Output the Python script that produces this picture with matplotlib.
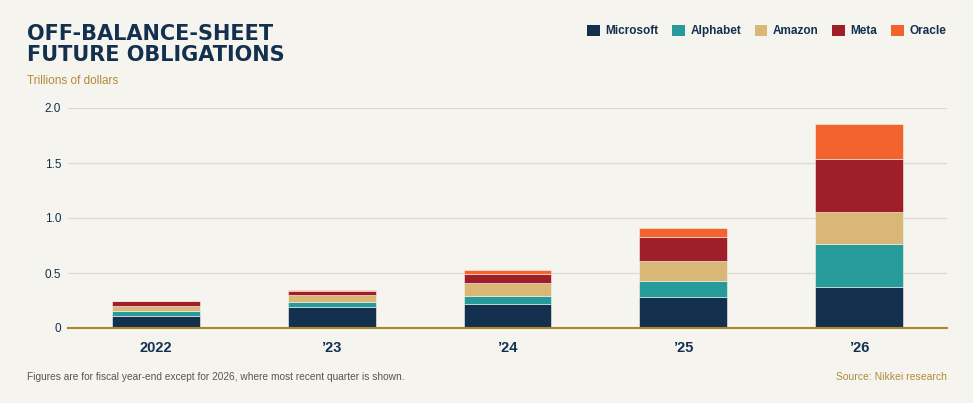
import numpy as np
import matplotlib
matplotlib.use("Agg")
import matplotlib.pyplot as plt
from matplotlib.patches import Patch

# data, trillions of dollars
years = ["2022", "\u201923", "\u201924", "\u201925", "\u201926"]
companies = ["Microsoft", "Alphabet", "Amazon", "Meta", "Oracle"]
microsoft = [0.112, 0.190, 0.220, 0.282, 0.369]
alphabet = [0.045, 0.048, 0.070, 0.142, 0.397]
amazon = [0.045, 0.066, 0.115, 0.185, 0.285]
meta = [0.040, 0.036, 0.082, 0.215, 0.482]
oracle = [0.003, 0.010, 0.043, 0.082, 0.325]

colors = ["#13304f", "#279b9a", "#d9b776", "#a01e27", "#f2632d"]
bg = "#f6f4ef"
navy = "#13304f"
gold = "#b08a3a"

plt.rcParams["font.family"] = ["Liberation Sans", "DejaVu Sans"]

fig = plt.figure(figsize=(9.73, 4.03), dpi=100, facecolor=bg)
ax = fig.add_axes([68 / 973, 75 / 403, 879 / 973, 220 / 403])
ax.set_facecolor(bg)

x = np.arange(len(years))
bottom = np.zeros(len(years))
for series, name, col in zip([microsoft, alphabet, amazon, meta, oracle], companies, colors):
    ax.bar(x, series, 0.5, bottom=bottom, color=col, edgecolor=bg, linewidth=0.4,
           label=name, zorder=3)
    bottom += np.array(series)

ax.set_xlim(-0.5, 4.5)
ax.set_ylim(0, 2.0)
ax.set_yticks([0, 0.5, 1.0, 1.5, 2.0])
ax.set_yticklabels(["0", "0.5", "1.0", "1.5", "2.0"], color=navy, fontsize=8.5)
ax.set_xticks(x)
ax.set_xticklabels(years, color=navy, fontsize=10.5, fontweight="bold")
ax.tick_params(axis="both", length=0)
ax.tick_params(axis="x", pad=9)
ax.tick_params(axis="y", pad=5)
ax.grid(axis="y", color="#dedbd5", linewidth=1, zorder=0)
for s in ["top", "right", "left"]:
    ax.spines[s].set_visible(False)
ax.spines["bottom"].set_color("#b0842a")
ax.spines["bottom"].set_linewidth(1.5)
ax.spines["bottom"].set_zorder(4)

# titles and notes
fig.text(27 / 973, 1 - 24 / 403, "OFF-BALANCE-SHEET\nFUTURE OBLIGATIONS", color=navy,
         fontsize=15, fontweight="heavy", va="top", ha="left", linespacing=1.08,
         family="DejaVu Sans")
fig.text(27 / 973, 1 - 81 / 403, "Trillions of dollars", color=gold, fontsize=8.5,
         va="center", ha="left")
fig.text(27 / 973, 1 - 377 / 403,
         "Figures are for fiscal year-end except for 2026, where most recent quarter is shown.",
         color="#555555", fontsize=7.3, va="center", ha="left")
fig.text(947 / 973, 1 - 377 / 403, "Source: Nikkei research", color=gold, fontsize=7.5,
         va="center", ha="right")

handles = [Patch(facecolor=c, edgecolor="none") for c in colors]
leg = fig.legend(handles, companies, loc="center right", bbox_to_anchor=(957 / 973, 1 - 31 / 403),
                 ncol=5, frameon=False, fontsize=8.5, handlelength=1.05, handleheight=1.05,
                 handletextpad=0.5, columnspacing=1.15)
for t in leg.get_texts():
    t.set_color(navy)
    t.set_fontweight("bold")

fig.savefig("out.png", dpi=100, facecolor=bg)
